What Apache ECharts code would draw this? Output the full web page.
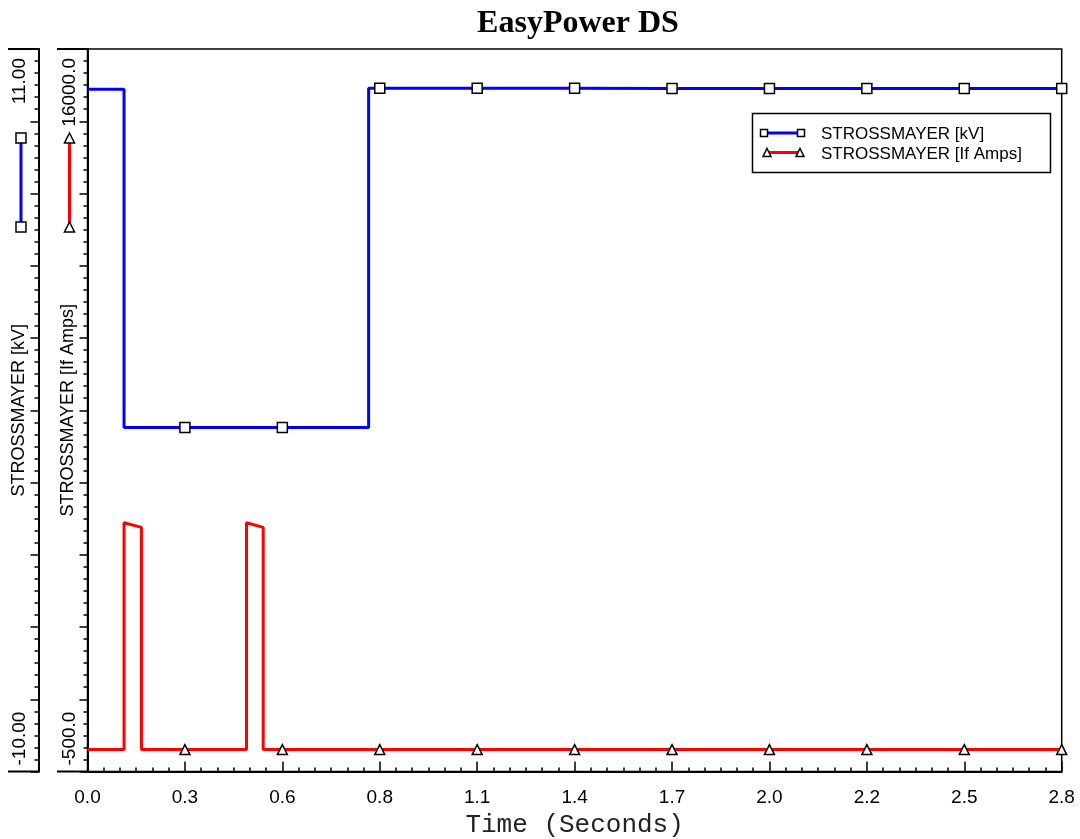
<!DOCTYPE html>
<html><head><meta charset="utf-8">
<script src="https://cdn.jsdelivr.net/npm/echarts@6/dist/echarts.min.js"></script>
<style>html,body{margin:0;padding:0;background:#fff}#c{width:1080px;height:839px}</style>
</head><body><div id="c"></div>
<script>
// ---- data ----
const titleText = 'EasyPower DS';
const xName = 'Time (Seconds)';
const kvName = 'STROSSMAYER [kV]';
const ampsName = 'STROSSMAYER [If Amps]';
const xMin = 0, xMax = 2.8, xStep = 0.28;
const kvMin = -10, kvMax = 11;
const ampsMin = -500, ampsMax = 16000;
const kvTickLabels = ['-10.00', '11.00'];
const ampsTickLabels = ['-500.0', '16000.0'];
const markerTimes = [0.28, 0.56, 0.84, 1.12, 1.4, 1.68, 1.96, 2.24, 2.52, 2.8];
const kvTimes  = [0, 0.105, 0.105, 0.28, 0.56, 0.808, 0.808, 0.84, 1.12, 1.4, 1.68, 1.96, 2.24, 2.52, 2.8];
const kvValues = [9.83, 9.83, 0.0, 0.0, 0.0, 0.0, 9.86, 9.86, 9.86, 9.86, 9.855, 9.855, 9.85, 9.85, 9.85];
const ampsTimes  = [0, 0.105, 0.105, 0.155, 0.155, 0.28, 0.457, 0.457, 0.505, 0.505, 0.56, 0.84, 1.12, 1.4, 1.68, 1.96, 2.24, 2.52, 2.8];
const ampsValues = [0, 0, 5180, 5075, 0, 0, 0, 5180, 5075, 0, 0, 0, 0, 0, 0, 0, 0, 0, 0];

// ---- styling ----
const SANS = 'Liberation Sans, Arial, sans-serif';
const BLUE = '#0000ff', RED = '#ff0000';
const chart = echarts.init(document.getElementById('c'), null, {renderer: 'canvas'});

function tickAxis(offset, minLabel, margin) {
  return {
    type: 'value', position: 'left', offset: offset, min: 0, max: 10, interval: 1,
    axisLine: {show: true, onZero: false, lineStyle: {color: '#000', width: 2}},
    axisTick: {show: true, inside: false, length: 8, lineStyle: {color: '#000', width: 1.5}},
    minorTick: {show: true, splitNumber: 6, length: 4, lineStyle: {color: '#000', width: 1.5}},
    splitLine: {show: false}, minorSplitLine: {show: false},
    axisLabel: {
      show: true, rotate: 90, align: 'left', verticalAlign: 'middle', margin: margin,
      padding: [0, 0, 0, 6], fontSize: 19, fontFamily: SANS, color: '#000',
      showMinLabel: true, showMaxLabel: false, hideOverlap: false,
      formatter: v => (v === 0 ? minLabel : '')
    }
  };
}
function dataAxis(offset, mn, mx, maxLabel, name, margin, nameGap) {
  return {
    type: 'value', position: 'left', offset: offset, min: mn, max: mx, interval: mx - mn,
    axisLine: {show: true, onZero: false, lineStyle: {color: '#000', width: 2}},
    axisTick: {show: false}, splitLine: {show: false},
    axisLabel: {
      show: true, rotate: 90, align: 'right', verticalAlign: 'middle', margin: margin,
      padding: [0, 9, 0, 0], fontSize: 19, fontFamily: SANS, color: '#000',
      showMinLabel: false, showMaxLabel: true, hideOverlap: false,
      formatter: v => (v === mx ? maxLabel : '')
    },
    name: name, nameLocation: 'middle', nameRotate: 90, nameGap: nameGap, nameMoveOverlap: false,
    nameTextStyle: {fontSize: 18, fontFamily: SANS, color: '#000'}
  };
}

function sq(cx, cy, s) {
  return {type: 'rect', shape: {x: cx - s / 2, y: cy - s / 2, width: s, height: s},
    style: {fill: '#fff', stroke: '#000', lineWidth: 1.5}, z: 110};
}
function tri(cx, cy, s) {
  return {type: 'polygon', shape: {points: [[cx, cy - s / 2], [cx + s / 2, cy + s / 2], [cx - s / 2, cy + s / 2]]},
    style: {fill: '#fff', stroke: '#000', lineWidth: 1.5}, z: 110};
}
function ln(x1, y1, x2, y2, color, w) {
  return {type: 'line', shape: {x1, y1, x2, y2}, style: {stroke: color, lineWidth: w}, z: 105};
}

const gTop = 49, gBot = 771.5;
const graphics = [
  // axis brackets
  ln(8, gTop, 39, gTop, '#000', 2), ln(8, gBot, 39, gBot, '#000', 2),
  ln(57, gTop, 88, gTop, '#000', 2), ln(57, gBot, 88, gBot, '#000', 2),
  // axis series samples
  ln(21, 138, 21, 227, BLUE, 3), sq(21, 138, 10), sq(21, 227, 10),
  ln(69.5, 138, 69.5, 227, RED, 3), tri(69.5, 138, 10), tri(69.5, 227, 10),
  // legend box
  {type: 'rect', shape: {x: 752.5, y: 113.5, width: 298, height: 59},
   style: {fill: '#fff', stroke: '#000', lineWidth: 1.5}, z: 100},
  ln(764, 133, 801, 133, BLUE, 3), sq(764, 133, 7), sq(801, 133, 7),
  {type: 'text', x: 821, y: 134, style: {text: kvName, fill: '#000', font: '17px ' + SANS, textVerticalAlign: 'middle'}, z: 110},
  ln(767, 152.5, 800, 152.5, RED, 3), tri(767, 152.5, 8), tri(800, 152.5, 8),
  {type: 'text', x: 821, y: 154, style: {text: ampsName, fill: '#000', font: '17px ' + SANS, textVerticalAlign: 'middle'}, z: 110}
];

const option = {
  animation: false,
  backgroundColor: '#fff',
  title: {
    text: titleText, left: 573, top: 3, textAlign: 'center',
    textStyle: {fontFamily: 'Liberation Serif, Times New Roman, serif', fontWeight: 'bold', fontSize: 32, color: '#000'}
  },
  grid: {left: 87.5, right: 18.3, top: gTop, bottom: 839 - gBot, show: true,
    borderColor: '#000', borderWidth: 1.5, backgroundColor: 'transparent', containLabel: false, outerBoundsMode: 'none'},
  xAxis: {
    type: 'value', min: xMin, max: xMax, interval: xStep,
    axisLine: {show: true, onZero: false, lineStyle: {color: '#000', width: 2}},
    axisTick: {show: true, inside: true, length: 10, lineStyle: {color: '#000', width: 1.5}},
    minorTick: {show: true, splitNumber: 6, length: 4, lineStyle: {color: '#000', width: 1.5}},
    splitLine: {show: false}, minorSplitLine: {show: false},
    axisLabel: {formatter: v => v.toFixed(1), fontSize: 19, fontFamily: SANS, color: '#000', margin: 17, hideOverlap: false},
    name: xName, nameLocation: 'middle', nameGap: 41, nameMoveOverlap: false,
    nameTextStyle: {fontFamily: 'Liberation Mono, Courier New, monospace', fontSize: 26, color: '#222'}
  },
  yAxis: [
    dataAxis(49, kvMin, kvMax, kvTickLabels[1], kvName, 19, 10),
    tickAxis(49, kvTickLabels[0], 19),
    dataAxis(0, ampsMin, ampsMax, ampsTickLabels[1], ampsName, 18, 10),
    tickAxis(0, ampsTickLabels[0], 18)
  ],
  series: [
    {
      name: kvName, type: 'line', yAxisIndex: 0,
      data: kvTimes.map((t, i) => [t, kvValues[i]]),
      symbol: v => (markerTimes.includes(v[0]) ? 'rect' : 'none'),
      symbolSize: 10, showSymbol: true, showAllSymbol: true,
      lineStyle: {color: BLUE, width: 3},
      itemStyle: {color: '#fff', borderColor: '#000', borderWidth: 1.5},
      emphasis: {disabled: true}, z: 3
    },
    {
      name: ampsName, type: 'line', yAxisIndex: 2,
      data: ampsTimes.map((t, i) => [t, ampsValues[i]]),
      symbol: v => (markerTimes.includes(v[0]) ? 'triangle' : 'none'),
      symbolSize: 10, showSymbol: true, showAllSymbol: true,
      lineStyle: {color: RED, width: 3},
      itemStyle: {color: '#fff', borderColor: '#000', borderWidth: 1.5},
      emphasis: {disabled: true}, z: 3
    }
  ],
  graphic: graphics
};
chart.setOption(option);
</script>
</body></html>
